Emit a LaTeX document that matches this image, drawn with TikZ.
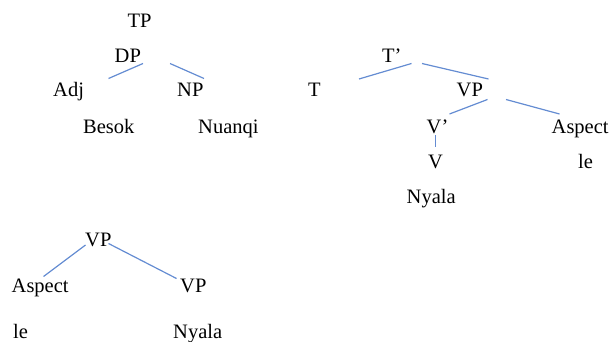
\documentclass[tikz,border=0pt]{standalone}
\usepackage{fontspec}
\setmainfont{Liberation Serif}
\begin{document}
\begin{tikzpicture}[x=1pt,y=-1pt,
  lbl/.style={anchor=base west,inner sep=0pt,font=\fontsize{20.5}{24}\selectfont},
  branch/.style={draw=branchblue,line width=1.2pt}]
\definecolor{branchblue}{RGB}{100,140,210}
\useasboundingbox (0,0) rectangle (611,342);

% first tree: TP over DP
\node[lbl] (tp1)    at (127.5,27.5) {TP};
\node[lbl] (dp1)    at (114.5,62.5) {DP};
\node[lbl] (adj1)   at (53,97) {Adj};
\node[lbl] (np1)    at (177,97) {NP};
\node[lbl] (besok)  at (83,134) {Besok};
\node[lbl] (nuanqi) at (198,134) {Nuanqi};
\coordinate (dp1-l)  at (143,63.5);
\coordinate (adj1-t) at (108.5,78.5);
\coordinate (dp1-r)  at (170,63.5);
\coordinate (np1-t)  at (204,78.5);
\draw[branch] (dp1-l) -- (adj1-t);
\draw[branch] (dp1-r) -- (np1-t);

% second tree: T' with T and VP
\node[lbl] (tbar)   at (382,62.5) {T’};
\node[lbl] (t2)     at (308,96.5) {T};
\node[lbl] (vp2)    at (456.5,96.5) {VP};
\node[lbl] (vbar)   at (426.5,133.5) {V’};
\node[lbl] (asp2)   at (551.5,133.5) {Aspect};
\node[lbl] (v2)     at (428,168.5) {V};
\node[lbl] (le2)    at (578,168.5) {le};
\node[lbl] (nyala2) at (406.5,203.5) {Nyala};
\coordinate (tbar-l) at (411.5,63.5);
\coordinate (t2-t)   at (359,79);
\coordinate (tbar-r) at (422,63.5);
\coordinate (vp2-t)  at (488.5,79);
\coordinate (vp2-l)  at (487.5,99.5);
\coordinate (vbar-t) at (449.5,114);
\coordinate (vp2-r)  at (506,99.5);
\coordinate (asp2-t) at (559.5,114);
\coordinate (vbar-b) at (435.7,135.5);
\coordinate (v2-t)   at (435.7,147.5);
\draw[branch] (tbar-l) -- (t2-t);
\draw[branch] (tbar-r) -- (vp2-t);
\draw[branch] (vp2-l) -- (vbar-t);
\draw[branch] (vp2-r) -- (asp2-t);
\draw[branch] (vbar-b) -- (v2-t);

% third tree: VP with Aspect and VP
\node[lbl] (vp3)    at (85,246.5) {VP};
\node[lbl] (asp3)   at (11.5,292.5) {Aspect};
\node[lbl] (vp3b)   at (180,292.5) {VP};
\node[lbl] (le3)    at (13,338) {le};
\node[lbl] (nyala3) at (173,338) {Nyala};
\coordinate (vp3-l)  at (85.5,245);
\coordinate (asp3-t) at (43.5,276.5);
\coordinate (vp3-r)  at (108.5,243.5);
\coordinate (vp3b-t) at (176.5,278.5);
\draw[branch] (vp3-l) -- (asp3-t);
\draw[branch] (vp3-r) -- (vp3b-t);
\end{tikzpicture}
\end{document}
